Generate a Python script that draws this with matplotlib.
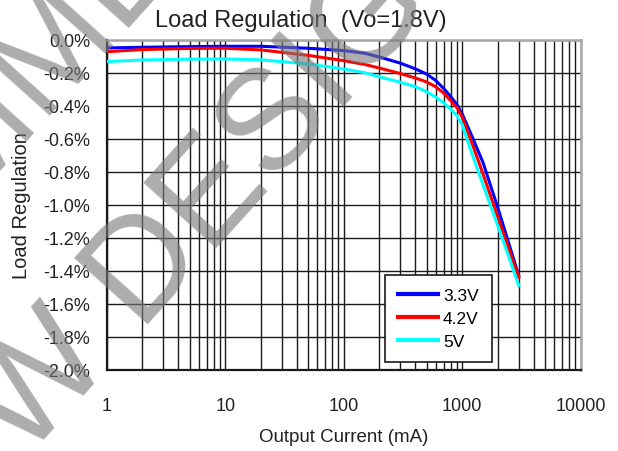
import matplotlib
matplotlib.use('Agg')
import matplotlib.pyplot as plt
from matplotlib.ticker import FixedLocator, FixedFormatter, LogLocator, NullFormatter

plt.rcParams['font.family'] = ['Liberation Sans', 'DejaVu Sans']
plt.rcParams['axes.unicode_minus'] = False

# ---- data (output current in mA, load regulation in %) ----
current = [1, 2, 5, 10, 20, 50, 100, 150, 200, 300, 400, 500, 600, 700, 800, 900,
           1000, 1200, 1500, 2000, 2500, 3000]
reg_33v = [-0.050, -0.046, -0.042, -0.040, -0.040, -0.052, -0.066, -0.082, -0.105,
           -0.142, -0.176, -0.208, -0.248, -0.297, -0.345, -0.392, -0.450, -0.580,
           -0.745, -1.020, -1.245, -1.430]
reg_42v = [-0.073, -0.060, -0.053, -0.052, -0.062, -0.095, -0.127, -0.150, -0.172,
           -0.205, -0.232, -0.256, -0.286, -0.325, -0.370, -0.410, -0.470, -0.620,
           -0.815, -1.075, -1.275, -1.440]
reg_5v = [-0.133, -0.123, -0.118, -0.117, -0.122, -0.147, -0.178, -0.200, -0.225,
          -0.258, -0.284, -0.315, -0.349, -0.384, -0.420, -0.460, -0.515, -0.685,
          -0.880, -1.130, -1.325, -1.490]
series_labels = ['3.3V', '4.2V', '5V']
series_colors = ['#0000ff', '#ff0000', '#00ffff']

y_ticks = [0.0, -0.2, -0.4, -0.6, -0.8, -1.0, -1.2, -1.4, -1.6, -1.8, -2.0]
y_labels = ['0.0%', '-0.2%', '-0.4%', '-0.6%', '-0.8%', '-1.0%', '-1.2%',
            '-1.4%', '-1.6%', '-1.8%', '-2.0%']
x_ticks = [1, 10, 100, 1000, 10000]
x_labels = ['1', '10', '100', '1000', '10000']

# ---- figure ----
fig = plt.figure(figsize=(6.18, 4.52), dpi=100)
ax = fig.add_axes([0.1727, 0.1799, 0.7669, 0.7301])

for vals, lab, col in zip([reg_33v, reg_42v, reg_5v], series_labels, series_colors):
    ax.plot(current, vals, color=col, lw=2.2, label=lab, zorder=3,
            solid_joinstyle='round')

ax.set_xscale('log')
ax.set_xlim(1, 10000)
ax.set_ylim(-2.0, 0.0)

ax.xaxis.set_major_locator(FixedLocator(x_ticks))
ax.xaxis.set_major_formatter(FixedFormatter(x_labels))
ax.xaxis.set_minor_locator(LogLocator(base=10, subs=range(2, 10)))
ax.xaxis.set_minor_formatter(NullFormatter())
ax.yaxis.set_major_locator(FixedLocator(y_ticks))
ax.yaxis.set_major_formatter(FixedFormatter(y_labels))

ax.set_axisbelow(True)
ax.grid(which='both', axis='x', color='#1a1a1a', lw=1.0)
ax.grid(which='major', axis='y', color='#1a1a1a', lw=1.0)

ax.tick_params(which='both', length=0)
ax.tick_params(axis='x', labelsize=13, pad=20)
ax.tick_params(axis='y', labelsize=13, pad=12)
for t in ax.get_xticklabels() + ax.get_yticklabels():
    t.set_color('#222222')

for s in ['left', 'bottom']:
    ax.spines[s].set_color('#1a1a1a')
    ax.spines[s].set_linewidth(1.6)
for s in ['top', 'right']:
    ax.spines[s].set_color('#a8a8a8')
    ax.spines[s].set_linewidth(1.8)

ax.set_xlabel('Output Current (mA)', fontsize=13.5, labelpad=10, color='#222222')
ax.set_ylabel('Load Regulation', fontsize=14.5, color='#222222')
ax.yaxis.set_label_coords(-0.16, 0.5)
fig.text(301 / 618, 1 - 21 / 452, 'Load Regulation  (Vo=1.8V)', ha='center', va='center',
         fontsize=17, color='#222222')

leg = ax.legend(loc='lower left', bbox_to_anchor=(0.587, 0.023), borderaxespad=0,
                fontsize=12.5, handlelength=2.3, handletextpad=0.3, labelspacing=0.45,
                borderpad=0.75, fancybox=False, framealpha=1.0, edgecolor='#1a1a1a')
leg.get_frame().set_linewidth(1.2)
for h in leg.get_lines():
    h.set_linewidth(3)

# ---- watermark (grey, see-through) ----
fig.text(171 / 618, 1 - 243 / 452, 'NEW DESIGN', rotation=48, rotation_mode='anchor',
         ha='center', va='center', fontsize=102, color='#7a7a7a',
         alpha=0.62, zorder=10)
fig.text(45 / 618, 1 - 66 / 452, 'NOT RECOMMENDED FOR', rotation=48, rotation_mode='anchor',
         ha='center', va='center', fontsize=102, color='#7a7a7a',
         alpha=0.62, zorder=10)

fig.savefig('out.png', dpi=100)
